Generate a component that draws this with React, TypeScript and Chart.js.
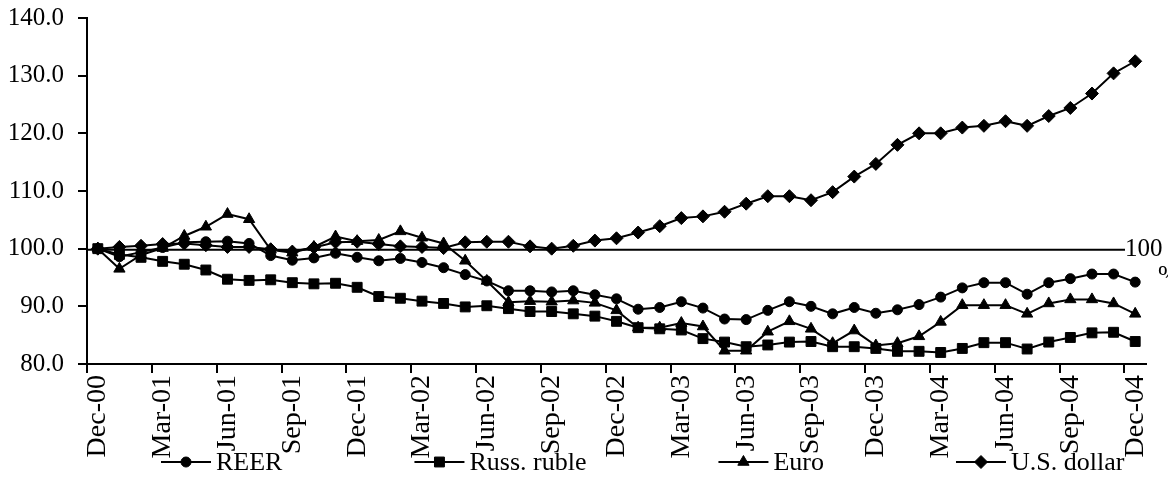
import React, { useEffect, useRef } from "react";
import { Chart, registerables } from "chart.js";
import { drawPoint } from "chart.js/helpers";

Chart.register(...registerables);

const months = [
  "Dec-00",
  "Jan-01", "Feb-01", "Mar-01", "Apr-01", "May-01", "Jun-01", "Jul-01", "Aug-01", "Sep-01", "Oct-01", "Nov-01", "Dec-01",
  "Jan-02", "Feb-02", "Mar-02", "Apr-02", "May-02", "Jun-02", "Jul-02", "Aug-02", "Sep-02", "Oct-02", "Nov-02", "Dec-02",
  "Jan-03", "Feb-03", "Mar-03", "Apr-03", "May-03", "Jun-03", "Jul-03", "Aug-03", "Sep-03", "Oct-03", "Nov-03", "Dec-03",
  "Jan-04", "Feb-04", "Mar-04", "Apr-04", "May-04", "Jun-04", "Jul-04", "Aug-04", "Sep-04", "Oct-04", "Nov-04", "Dec-04",
];
const labelEvery = 3;

const reer = [
  100.0, 98.6, 99.4, 100.2, 101.1, 101.2, 101.3, 100.9, 98.8, 98.0, 98.4, 99.2, 98.5,
  97.9, 98.3, 97.6, 96.7, 95.5, 94.4, 92.7, 92.7, 92.5, 92.7, 92.0, 91.3,
  89.5, 89.8, 90.8, 89.7, 87.8, 87.7, 89.3, 90.8, 90.0, 88.7, 89.8, 88.8,
  89.4, 90.3, 91.6, 93.2, 94.1, 94.1, 92.1, 94.1, 94.8, 95.6, 95.6, 94.2,
];
const russRuble = [
  100.0, 99.0, 98.5, 97.8, 97.3, 96.3, 94.7, 94.5, 94.6, 94.1, 93.9, 94.0, 93.3,
  91.7, 91.4, 90.9, 90.5, 89.9, 90.1, 89.6, 89.1, 89.1, 88.7, 88.3, 87.4,
  86.3, 86.1, 85.9, 84.4, 83.8, 83.0, 83.3, 83.8, 83.9, 83.0, 83.0, 82.7,
  82.2, 82.2, 82.0, 82.7, 83.7, 83.7, 82.6, 83.8, 84.6, 85.4, 85.5, 83.9,
];
const euro = [
  100.0, 96.5, 98.9, 100.1, 102.2, 103.8, 106.0, 105.1, 99.8, 99.3, 100.3, 102.1, 101.3,
  101.5, 103.0, 101.9, 100.9, 97.9, 94.4, 90.7, 90.9, 90.8, 91.0, 90.6, 89.3,
  86.3, 86.3, 87.1, 86.5, 82.3, 82.3, 85.6, 87.4, 86.1, 83.6, 85.8, 83.2,
  83.6, 84.8, 87.3, 90.2, 90.2, 90.2, 88.7, 90.5, 91.2, 91.2, 90.5, 88.7,
];
const usDollar = [
  100.0, 100.3, 100.5, 100.8, 100.9, 100.6, 100.3, 100.3, 99.9, 99.5, 100.2, 101.1, 101.2,
  100.8, 100.4, 100.3, 100.1, 101.1, 101.2, 101.2, 100.4, 100.0, 100.5, 101.4, 101.8,
  102.8, 103.9, 105.3, 105.6, 106.4, 107.8, 109.1, 109.1, 108.4, 109.8, 112.5, 114.7,
  118.0, 120.0, 120.0, 121.0, 121.3, 122.1, 121.3, 123.0, 124.4, 126.9, 130.4, 132.5,
];

const seriesNames = ["REER", "Russ. ruble", "Euro", "U.S. dollar"];
const seriesValues = [reer, russRuble, euro, usDollar];
const seriesMarkers = ["circle", "rect", "triangle", "rectRot"];
const markerRadius = [5, 7, 6.5, 6.5];

const yMin = 80;
const yMax = 140;
const yStep = 10;
const refValue = 100;
const refLabelMain = "100";
const refLabelTail = "%";

const FONT = "'Liberation Serif', 'Times New Roman', Times, serif";
const INK = "#000000";

const refLinePlugin = {
  id: "refLine",
  beforeDatasetsDraw(chart: any) {
    const { ctx, chartArea, scales } = chart;
    const y = scales.y.getPixelForValue(refValue) + 1;
    ctx.save();
    ctx.strokeStyle = INK;
    ctx.lineWidth = 2;
    ctx.beginPath();
    ctx.moveTo(chartArea.left, y);
    ctx.lineTo(chartArea.right - 21, y);
    ctx.stroke();
    ctx.restore();
  },
  afterDraw(chart: any) {
    const { ctx, chartArea, scales } = chart;
    const y = scales.y.getPixelForValue(refValue) + 1;
    ctx.save();
    ctx.fillStyle = INK;
    ctx.font = `25px ${FONT}`;
    ctx.textAlign = "left";
    ctx.textBaseline = "middle";
    ctx.fillText(refLabelMain, chartArea.right - 21, y);
    ctx.beginPath();
    ctx.rect(0, y + 10, chart.width, 18);
    ctx.clip();
    ctx.fillText(refLabelTail, chartArea.right + 12, y + 27);
    ctx.restore();
  },
};

const legendPlugin = {
  id: "customLegend",
  afterDraw(chart: any) {
    const { ctx, chartArea } = chart;
    const y = chart.height - 20;
    const lineLen = 50;
    const gap = 132;
    ctx.save();
    ctx.font = `26px ${FONT}`;
    ctx.textBaseline = "middle";
    ctx.textAlign = "left";
    let x = chartArea.left + 74;
    chart.data.datasets.forEach((ds: any) => {
      ctx.strokeStyle = INK;
      ctx.fillStyle = INK;
      ctx.lineWidth = 2;
      ctx.beginPath();
      ctx.moveTo(x, y);
      ctx.lineTo(x + lineLen, y);
      ctx.stroke();
      ctx.lineWidth = 1;
      drawPoint(ctx, { pointStyle: ds.pointStyle, radius: ds.pointRadius, rotation: 0, borderWidth: 1 } as any, x + lineLen / 2, y);
      ctx.fillText(ds.label, x + lineLen + 5, y + 1);
      const w = ctx.measureText(ds.label).width;
      x += lineLen + 5 + w + gap;
    });
    ctx.restore();
  },
};

export default function App() {
  const canvasRef = useRef<HTMLCanvasElement | null>(null);

  useEffect(() => {
    document.body.style.margin = "0";
    const canvas = canvasRef.current;
    if (!canvas) return;
    const chart = new Chart(canvas, {
      type: "line",
      data: {
        labels: months,
        datasets: seriesNames.map((name, i) => ({
          label: name,
          data: seriesValues[i],
          borderColor: INK,
          backgroundColor: INK,
          borderWidth: 2,
          pointStyle: seriesMarkers[i] as any,
          pointRadius: markerRadius[i],
          pointBackgroundColor: INK,
          pointBorderColor: INK,
          pointBorderWidth: 1,
          tension: 0,
          fill: false,
        })),
      },
      options: {
        responsive: false,
        animation: false,
        devicePixelRatio: 1,
        layout: { padding: { top: 18, right: 22, left: 0, bottom: 0 } },
        plugins: {
          legend: { display: false },
          tooltip: { enabled: false },
          title: { display: false },
        },
        scales: {
          x: {
            type: "category",
            offset: true,
            grid: {
              offset: true,
              drawOnChartArea: false,
              drawTicks: true,
              tickLength: 9,
              lineWidth: 2,
              color: (c: any) =>
                c.index !== undefined && c.index % labelEvery === 0 ? INK : "rgba(0,0,0,0)",
            },
            border: { display: true, color: INK, width: 2 },
            ticks: {
              autoSkip: false,
              maxRotation: 90,
              minRotation: 90,
              padding: 2,
              color: INK,
              font: { family: FONT, size: 28 },
              callback: (_v: any, i: number) => (i % labelEvery === 0 ? months[i] : ""),
            },
            afterFit: (s: any) => {
              s.height = 118;
              s.paddingLeft = 0;
              s.paddingRight = 0;
            },
          },
          y: {
            min: yMin,
            max: yMax,
            grid: {
              drawOnChartArea: false,
              drawTicks: true,
              tickLength: 9,
              lineWidth: 2,
              color: INK,
            },
            border: { display: true, color: INK, width: 2 },
            ticks: {
              stepSize: yStep,
              padding: 14,
              color: INK,
              font: { family: FONT, size: 25 },
              callback: (v: any) => Number(v).toFixed(1),
            },
            afterFit: (s: any) => {
              s.width = 87;
              s.paddingTop = 0;
              s.paddingBottom = 0;
            },
          },
        },
      },
      plugins: [refLinePlugin, legendPlugin],
    });
    return () => chart.destroy();
  }, []);

  return (
    <div style={{ width: 1168, height: 482, background: "#ffffff" }}>
      <canvas ref={canvasRef} width={1168} height={482} style={{ display: "block", width: 1168, height: 482 }} />
    </div>
  );
}
